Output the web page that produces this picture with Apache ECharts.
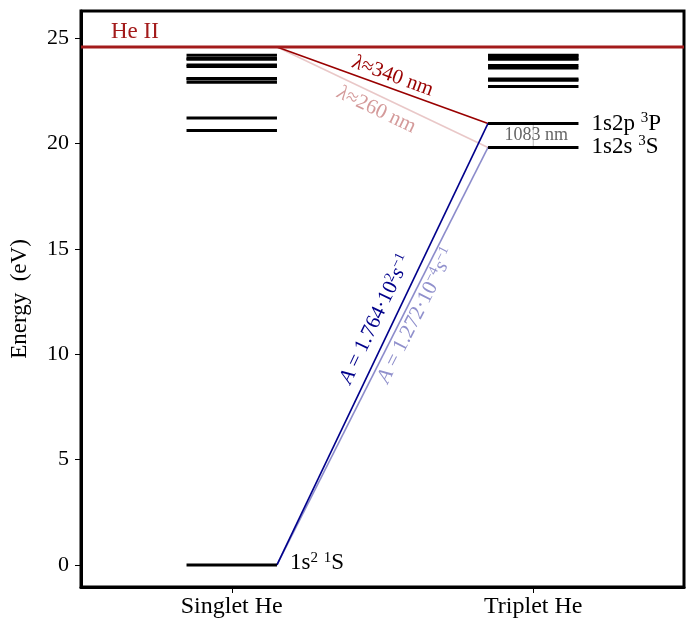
<!DOCTYPE html>
<html>
<head>
<meta charset="utf-8">
<script src="https://cdn.jsdelivr.net/npm/echarts@6/dist/echarts.min.js"></script>
<style>
html,body{margin:0;padding:0;background:#fff;}
#c{width:686px;height:621px;}
</style>
</head>
<body>
<div id="c"></div>
<script>
// ---- data ----
const columnNames = ['Singlet He', 'Triplet He'];
const columnPos = [1, 2];
const yTicks = [0, 5, 10, 15, 20, 25];
const singletLevels = [0, 20.62, 21.22, 22.92, 23.07, 23.09, 23.67, 23.74, 24.01, 24.04, 24.20];
const tripletLevels = [19.82, 20.96, 22.72, 23.01, 23.07, 23.59, 23.71, 24.01, 24.04, 24.17, 24.20];
const ionization = 24.59;        // He II
const groundS = 0;               // 1s2 1S
const level3P = 20.96;           // 1s2p 3P
const level3S = 19.82;           // 1s2s 3S
const halfWidth = 0.15;

const SERIF = '"Liberation Serif","DejaVu Serif",serif';

const levelData = [];
singletLevels.forEach(e => levelData.push([columnPos[0], e]));
tripletLevels.forEach(e => levelData.push([columnPos[1], e]));

const xL = columnPos[0] + halfWidth, xR = columnPos[1] - halfWidth;

function seg(data, color, width, z) {
  return {type: 'line', data: data, symbol: 'none', silent: true, z: z || 3,
    lineStyle: {color: color, width: width}, animation: false};
}

const chart = echarts.init(document.getElementById('c'));
chart.setOption({
  animation: false,
  grid: {left: 80, right: 2, top: 11, bottom: 34, show: true, borderColor: '#000', borderWidth: 3},
  xAxis: {
    type: 'value', min: 0.5, max: 2.5,
    splitLine: {show: false},
    axisLine: {show: true, onZero: false, lineStyle: {color: '#000', width: 3}},
    axisTick: {show: true, customValues: columnPos, length: 6, lineStyle: {color: '#000', width: 1}},
    axisLabel: {customValues: columnPos, formatter: v => columnNames[columnPos.indexOf(v)] || '',
      fontFamily: SERIF, fontSize: 24, color: '#000', margin: 8}
  },
  yAxis: {
    type: 'value', min: -1.05, max: 26.3,
    name: 'Energy  (eV)', nameLocation: 'middle', nameGap: 50,
    nameTextStyle: {fontFamily: SERIF, fontSize: 23, color: '#000'},
    splitLine: {show: false},
    axisLine: {show: true, onZero: false, lineStyle: {color: '#000', width: 3}},
    axisTick: {show: true, customValues: yTicks, length: 6, lineStyle: {color: '#000', width: 1}},
    axisLabel: {customValues: yTicks, fontFamily: SERIF, fontSize: 22, color: '#000', margin: 12}
  },
  series: [
    {
      type: 'custom', silent: true, z: 4, animation: false,
      data: levelData,
      renderItem: function (params, api) {
        const x = api.value(0), e = api.value(1);
        const p1 = api.coord([x - halfWidth, e]);
        const p2 = api.coord([x + halfWidth, e]);
        return {type: 'line', shape: {x1: p1[0], y1: p1[1], x2: p2[0], y2: p2[1]},
          style: {stroke: '#000', lineWidth: 3}};
      }
    },
    seg([[0.5, ionization], [2.5, ionization]], '#a31b1b', 3, 5),
    seg([[xL, ionization], [xR, level3P]], '#990000', 1.6, 3),
    seg([[xL, ionization], [xR, level3S]], 'rgba(153,0,0,0.22)', 1.6, 2),
    seg([[xL, groundS], [xR, level3P]], '#00008b', 1.6, 3),
    seg([[xL, groundS], [xR, level3S]], 'rgba(0,0,139,0.45)', 1.6, 2),
    seg([[columnPos[1], level3S], [columnPos[1], level3P]], '#bbbbbb', 1, 2)
  ]
});

// ---- annotations placed from data coordinates ----
const px = p => chart.convertToPixel({gridIndex: 0}, p);
function along(a, b, t, off) {
  const A = px(a), B = px(b);
  const x = A[0] + (B[0] - A[0]) * t, y = A[1] + (B[1] - A[1]) * t;
  const dx = B[0] - A[0], dy = B[1] - A[1];
  const L = Math.hypot(dx, dy);
  let ang = Math.atan2(-dy, dx);
  const nx = dy / L, ny = -dx / L;
  return {x: x + nx * off, y: y + ny * off, rot: ang};
}
const supStyle = (c, s, pb) => ({fontFamily: SERIF, fontSize: s, fill: c, verticalAlign: 'bottom', padding: [0, 0, pb, 0]});
const graphics = [];
function rtext(pos, text, color, size, rich) {
  graphics.push({type: 'text', x: pos.x, y: pos.y, rotation: pos.rot || 0, silent: true, z: 10,
    style: {text: text, fill: color, fontFamily: SERIF, fontSize: size, align: pos.align || 'center',
      verticalAlign: 'middle', rich: rich || {}}});
}
const it = (c, s) => ({fontStyle: 'italic', fontFamily: SERIF, fontSize: s, fill: c});
const r340 = along([xL, ionization], [xR, level3P], 0.53, 12);
rtext(r340, '{i|λ}≈340 nm', '#990000', 21, {i: it('#990000', 21)});
const r260 = along([xL, ionization], [xR, level3S], 0.5, -14);
rtext(r260, '{i|λ}≈260 nm', '#d49a9a', 21, {i: it('#d49a9a', 21)});
const rA1 = along([xL, groundS], [xR, level3P], 0.54, 17);
rtext(rA1, '{i|A} = 1.764·10{s|2}{i|s}{s|−1}', '#00008b', 21, {
  i: it('#00008b', 21), s: supStyle('#00008b', 14, 10)});
const rA2 = along([xL, groundS], [xR, level3S], 0.61, -12);
rtext(rA2, '{i|A} = 1.272·10{s|−4}{i|s}{s|−1}', '#9090cc', 21, {
  i: it('#9090cc', 21), s: supStyle('#9090cc', 14, 10)});

const lab = (p, dx, dy) => { const q = px(p); return {x: q[0] + dx, y: q[1] + dy, align: 'left'}; };
const richLev = {s: supStyle('#000', 15, 10)};
rtext(lab([columnPos[1] + halfWidth, level3P], 13, 0), '1s2p {s|3}P', '#000', 23, richLev);
rtext(lab([columnPos[1] + halfWidth, level3S], 13, -1), '1s2s {s|3}S', '#000', 23, richLev);
rtext(lab([columnPos[0] + halfWidth, groundS], 13, -2), '1s{s|2} {s|1}S', '#000', 23, richLev);
rtext(lab([0.5, ionization], 30, -15), 'He II', '#a31b1b', 23);
const mid = px([columnPos[1], (level3S + level3P) / 2]);
rtext({x: mid[0] + 3, y: mid[1], align: 'center'}, '1083 nm', '#666666', 18);

chart.setOption({graphic: graphics});
</script>
</body>
</html>
